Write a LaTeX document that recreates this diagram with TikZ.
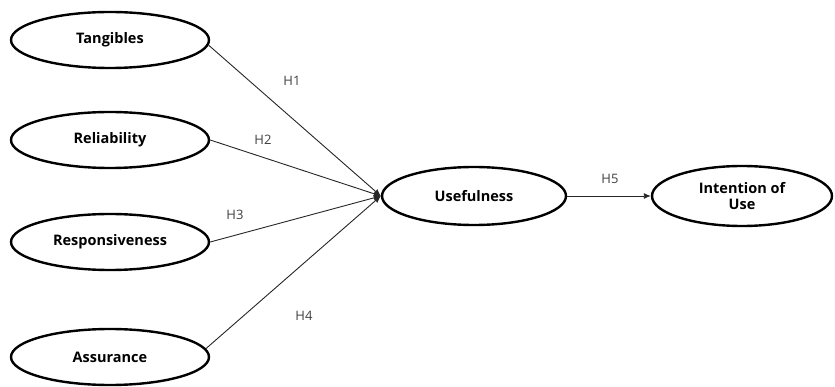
\documentclass[tikz,border=0pt]{standalone}
\usepackage{fontspec}
\setmainfont{Open Sans}
\usetikzlibrary{shapes.geometric,arrows.meta}
\begin{document}
\begin{tikzpicture}[x=1pt,y=-1pt,
   construct/.style={ellipse,draw,line width=2.4pt,minimum width=198pt,minimum height=56pt,
     inner sep=0pt,align=center,font=\bfseries\fontsize{14.5}{16}\selectfont},
   path/.style={draw=black!85,line width=.9pt},
   hyp/.style={font=\fontsize{13}{15}\selectfont,text=black!75}]
   \path[use as bounding box] (0,0) rectangle (835,387);
   \node[construct] (tan) at (110, 40) {Tangibles};
   \node[construct] (rel) at (110,140) {Reliability};
   \node[construct] (res) at (110,242) {Responsiveness};
   \node[construct] (ass) at (110,357) {Assurance};
   \node[construct,minimum width=184pt,minimum height=58pt] (use) at (474,196) {Usefulness};
   \node[construct,minimum width=180pt,minimum height=60pt] (int) at (742,196) {Intention of\\Use};
   \coordinate (tip) at (use.west);
   \draw[path,-{Latex[length=7pt,width=6pt]}] (tan.-3) -- (tip);
   \draw[path,-{Latex[length=7pt,width=6pt]}] (rel.east) -- (tip);
   \draw[path,-{Latex[length=7pt,width=6pt]}] (res.east) -- (tip);
   \draw[path,-{Latex[length=7pt,width=6pt]}] (ass.5) -- (tip);
   \draw[path,-{Latex[length=7pt,width=6pt]}] (use) -- (int);
   \node[hyp] (h1) at (292, 81) {H1};
   \node[hyp] (h2) at (263,140) {H2};
   \node[hyp] (h3) at (235,215) {H3};
   \node[hyp] (h4) at (304,316) {H4};
   \node[hyp] (h5) at (610,179) {H5};
 \end{tikzpicture}
\end{document}
